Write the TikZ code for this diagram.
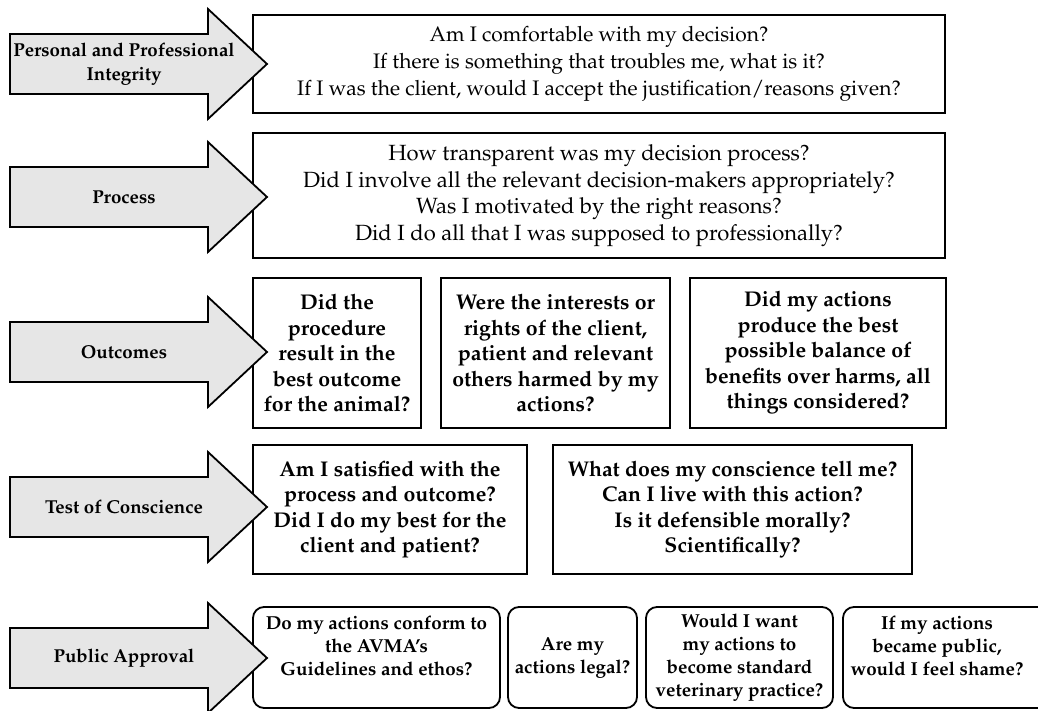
\documentclass[tikz,border=0pt]{standalone}
\usepackage[T1]{fontenc}
\renewcommand{\rmdefault}{ppl}
\renewcommand{\bfdefault}{b}
\definecolor{arrowgray}{HTML}{E6E6E6}
\tikzset{
  boxline/.style={draw, line width=1.8pt},
  qbox/.style={boxline, inner sep=0pt, align=center,
    font=\fontsize{21.3}{25.5}\selectfont\bfseries},
  topbox/.style={boxline, inner sep=0pt, align=center,
    font=\fontsize{22}{26.5}\selectfont},
  rbox/.style={boxline, rounded corners=11pt, inner sep=0pt, align=center,
    font=\fontsize{18.8}{23.2}\selectfont\bfseries},
  rtext/.style={inner sep=0pt, align=center,
    font=\fontsize{18.8}{23.2}\selectfont\bfseries},
  bigarrowshape/.style={draw, line width=1.8pt, fill=arrowgray, line join=miter},
  lbl/.style={align=center, inner sep=0pt, font=\fontsize{18.7}{24}\selectfont\bfseries}
}
\newcommand{\BigArr}[3]{%
  \draw[bigarrowshape] (10,#1-30) -- (208,#1-30) -- (208,#1-55) -- (267,#1)
    -- (208,#1+55) -- (208,#1+30) -- (10,#1+30) -- cycle;
  \node[lbl] (#2) at (124,#1) {#3};
}
\begin{document}
\begin{tikzpicture}[x=1pt,y=-1pt]
\useasboundingbox (0,0) rectangle (1038,711);
% boxes
\node[topbox, minimum width=692pt, minimum height=98pt, font=\fontsize{21}{27}\selectfont] (b1) at (599,64)
  {Am I comfortable with my decision?\\If there is something that troubles me, what is it?\\If I was the client, would I accept the justification/reasons given?};
\node[topbox, minimum width=692pt, minimum height=125pt] (b2) at (599,195.5)
  {How transparent was my decision process?\\Did I involve all the relevant decision-makers appropriately?\\Was I motivated by the right reasons?\\Did I do all that I was supposed to professionally?};
\node[qbox, minimum width=168pt, minimum height=150pt] (b3a) at (337,353)
  {Did the\\procedure\\result in the\\best outcome\\for the animal?};
\node[qbox, minimum width=229pt, minimum height=150pt] (b3b) at (555.5,353)
  {Were the interests or\\rights of the client,\\patient and relevant\\others harmed by my\\actions?};
\node[qbox, minimum width=256pt, minimum height=150pt] (b3c) at (818,353)
  {Did my actions\\produce the best\\possible balance of\\benefits over harms, all\\things considered?};
\node[qbox, minimum width=274pt, minimum height=129pt] (b4a) at (390,509.5)
  {Am I satisfied with the\\process and outcome?\\Did I do my best for the\\client and patient?};
\node[qbox, minimum width=359pt, minimum height=129pt] (b4b) at (732.5,509.5)
  {What does my conscience tell me?\\Can I live with this action?\\Is it defensible morally?\\Scientifically?};
\node[rbox, minimum width=247pt, minimum height=101pt] (b5a) at (376.5,657.5)
  {Do my actions conform to\\the AVMA's\\Guidelines and ethos?\\\mbox{}};
\node[rbox, minimum width=129pt, minimum height=101pt] (b5b) at (572.5,657.5)
  {Are my\\actions legal?};
\node[rbox, minimum width=187pt, minimum height=101pt] (b5c) at (739.5,657.5)
  {Would I want\\my actions to\\become standard\\veterinary practice?};
\node[rbox, minimum width=217pt, minimum height=101pt] (b5dbox) at (951.5,657.5) {};
\node[rtext] (b5d) at (937,646) {If my actions\\became public,\\would I feel shame?};
% arrows
\BigArr{64}{a1}{Personal and Professional\\Integrity}
\BigArr{197}{a2}{Process}
\BigArr{352}{a3}{Outcomes}
\BigArr{507}{a4}{Test of Conscience}
\BigArr{658}{a5}{Public Approval}
\end{tikzpicture}
\end{document}
